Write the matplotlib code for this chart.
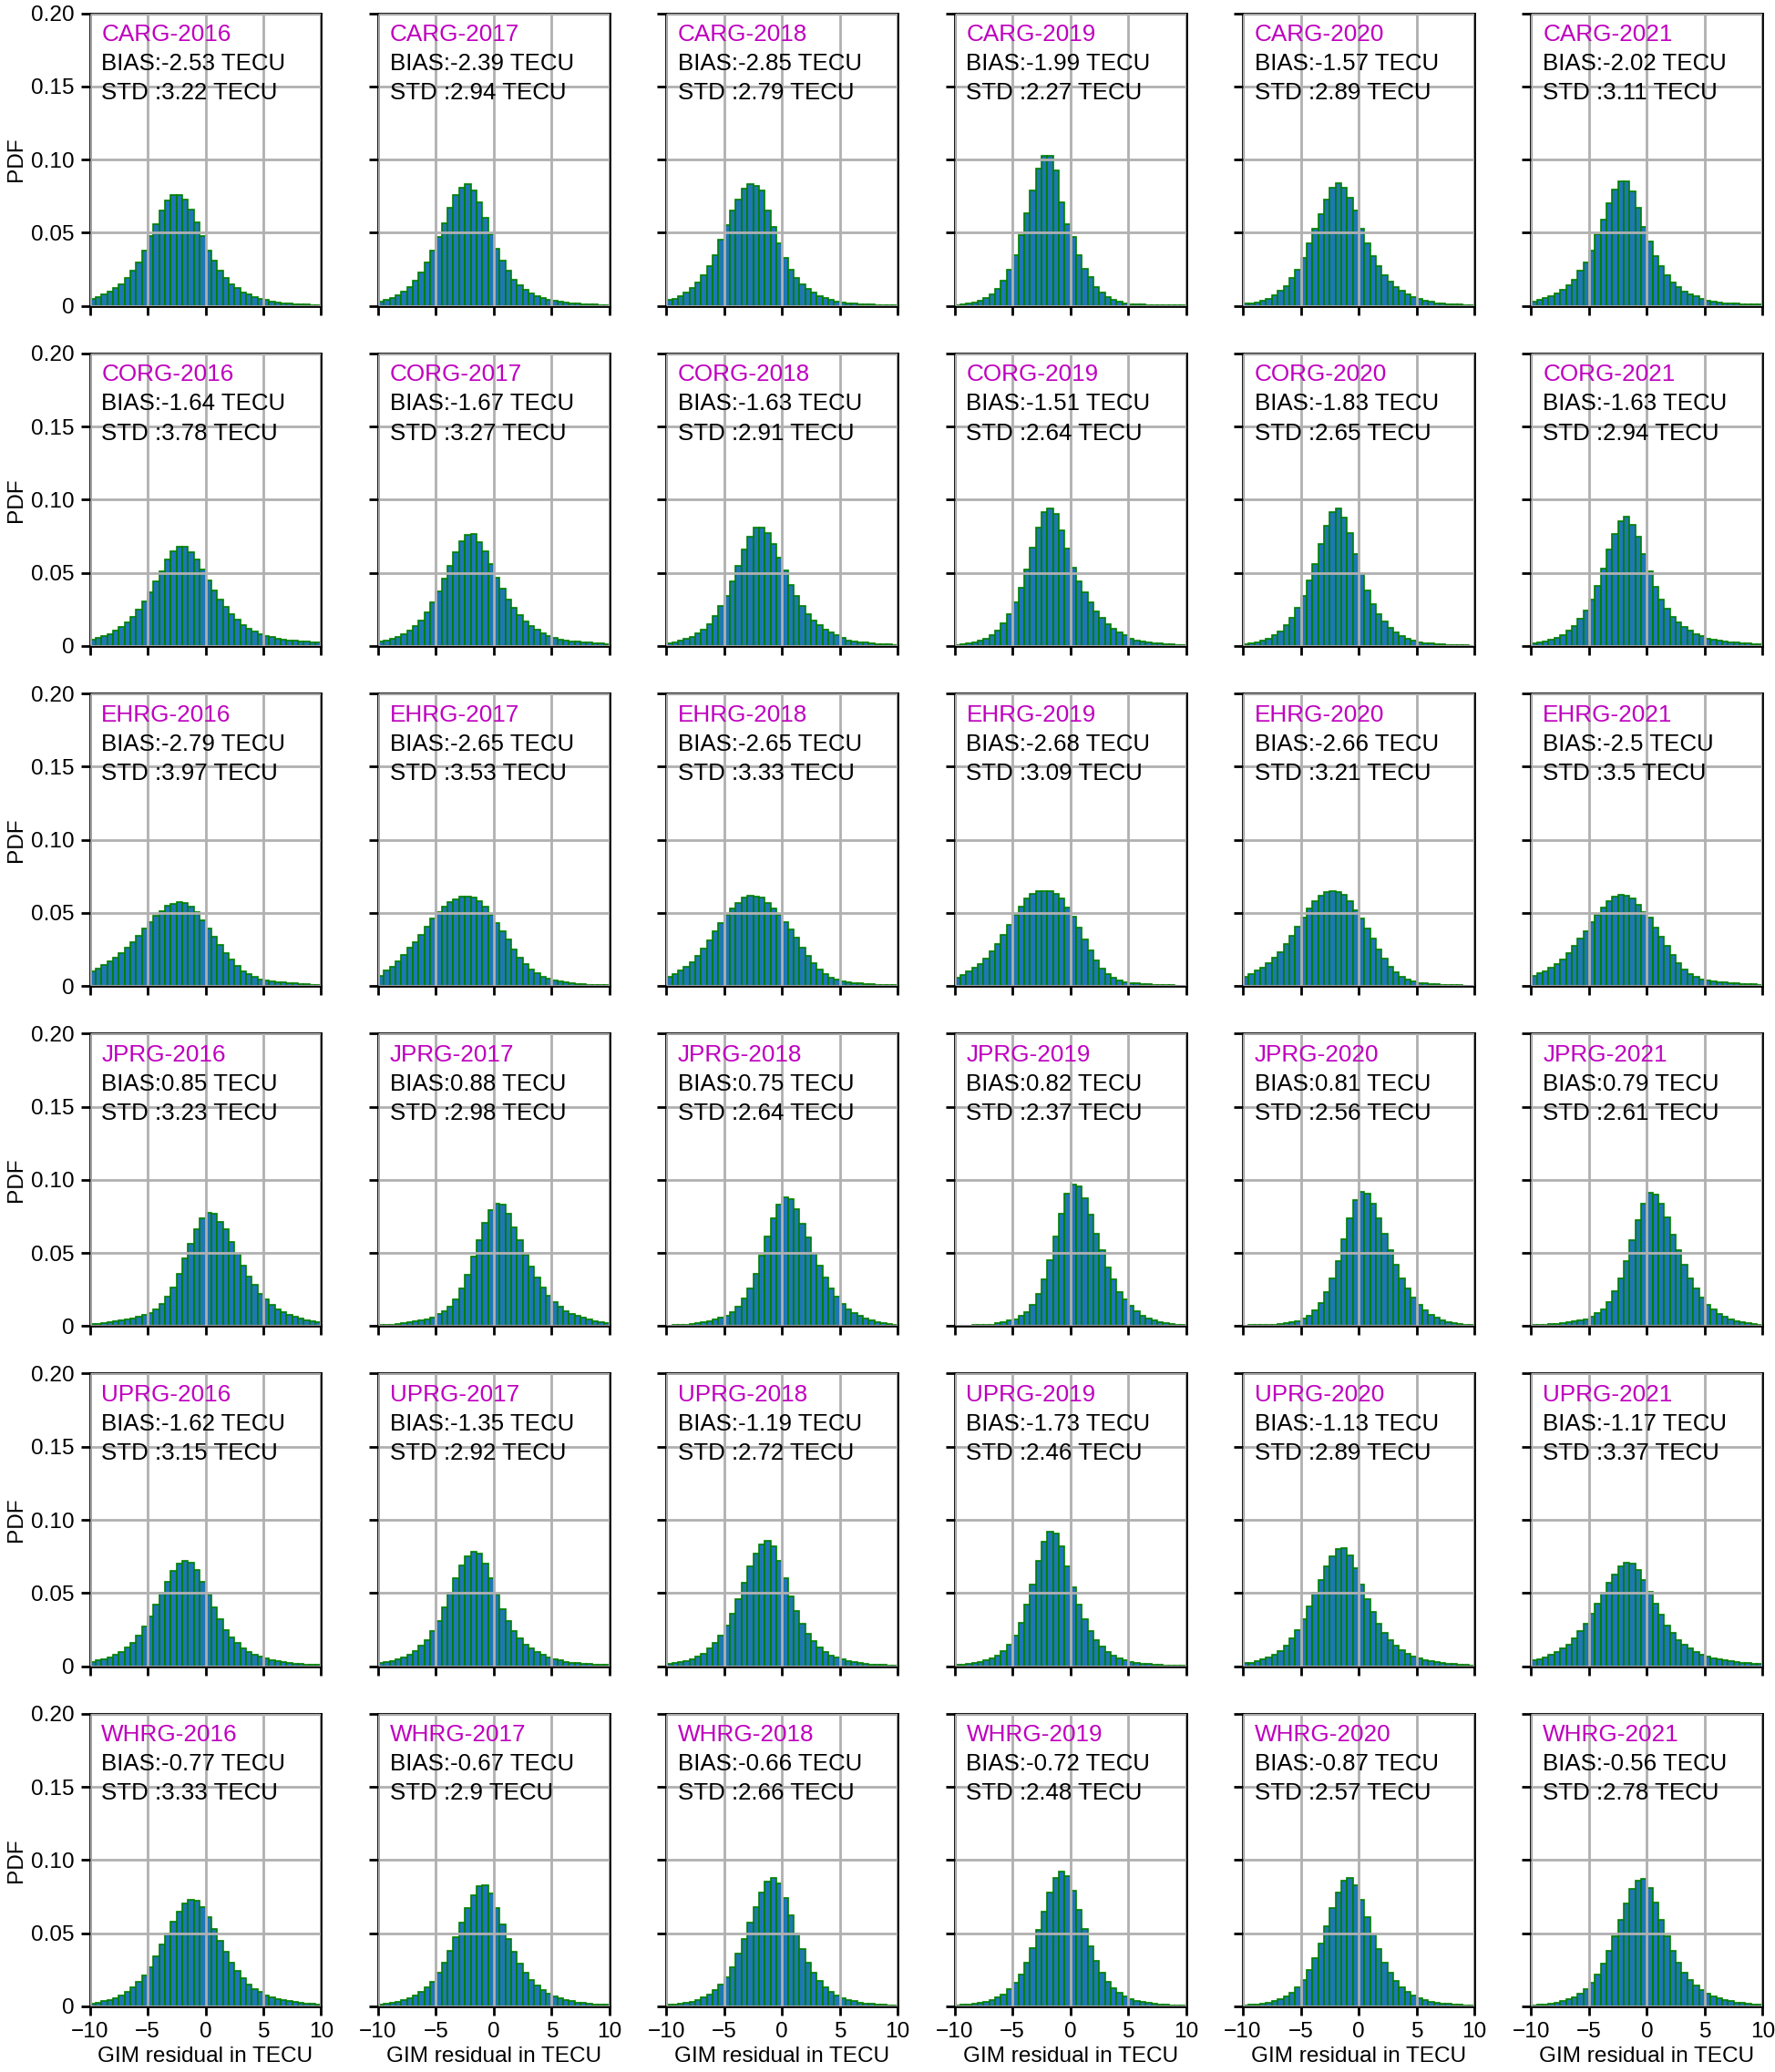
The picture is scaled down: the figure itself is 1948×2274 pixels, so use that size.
#!/usr/bin/env python3
"""6x6 grid of GIM residual histograms (PDF), one row per station, one column per year."""

import matplotlib

matplotlib.use("Agg")
import matplotlib.pyplot as plt  # noqa: E402
import numpy as np  # noqa: E402

plt.rcParams["font.family"] = ["Liberation Sans", "DejaVu Sans"]

STATIONS = ["CARG", "CORG", "EHRG", "JPRG", "UPRG", "WHRG"]
YEARS = [2016, 2017, 2018, 2019, 2020, 2021]

# bias / std per station (rows) and year (columns), TECU
BIAS = [
    [-2.53, -2.39, -2.85, -1.99, -1.57, -2.02],
    [-1.64, -1.67, -1.63, -1.51, -1.83, -1.63],
    [-2.79, -2.65, -2.65, -2.68, -2.66, -2.5],
    [0.85, 0.88, 0.75, 0.82, 0.81, 0.79],
    [-1.62, -1.35, -1.19, -1.73, -1.13, -1.17],
    [-0.77, -0.67, -0.66, -0.72, -0.87, -0.56],
]
STD = [
    [3.22, 2.94, 2.79, 2.27, 2.89, 3.11],
    [3.78, 3.27, 2.91, 2.64, 2.65, 2.94],
    [3.97, 3.53, 3.33, 3.09, 3.21, 3.5],
    [3.23, 2.98, 2.64, 2.37, 2.56, 2.61],
    [3.15, 2.92, 2.72, 2.46, 2.89, 3.37],
    [3.33, 2.9, 2.66, 2.48, 2.57, 2.78],
]

# bin heights, 40 bins of 0.5 TECU from -10 to 10
CARG_PDF = [
    [0.005, 0.006, 0.008, 0.010, 0.012, 0.015, 0.019, 0.024, 0.030, 0.038,
     0.048, 0.056, 0.065, 0.072, 0.076, 0.076, 0.073, 0.066, 0.057, 0.048,
     0.038, 0.031, 0.024, 0.019, 0.015, 0.012, 0.009, 0.008, 0.006, 0.005,
     0.004, 0.003, 0.0025, 0.002, 0.0016, 0.0013, 0.001, 0.0008, 0.0006, 0.0005],
    [0.003, 0.004, 0.0055, 0.0075, 0.010, 0.013, 0.0175, 0.023, 0.030, 0.038,
     0.047, 0.0565, 0.067, 0.076, 0.081, 0.083, 0.079, 0.071, 0.060, 0.049,
     0.039, 0.031, 0.024, 0.018, 0.014, 0.011, 0.0088, 0.0069, 0.0054, 0.0042,
     0.0033, 0.0027, 0.0022, 0.0018, 0.0015, 0.0012, 0.001, 0.0008, 0.0006, 0.0005],
    [0.004, 0.005, 0.007, 0.009, 0.012, 0.016, 0.021, 0.027, 0.035, 0.045,
     0.055, 0.065, 0.073, 0.080, 0.083, 0.082, 0.079, 0.065, 0.054, 0.0425,
     0.033, 0.025, 0.019, 0.015, 0.0117, 0.009, 0.0069, 0.0054, 0.0042, 0.0031,
     0.0025, 0.002, 0.0016, 0.0013, 0.001, 0.0008, 0.0007, 0.0006, 0.0005, 0.0004],
    [0.0006, 0.001, 0.0015, 0.0023, 0.0033, 0.0054, 0.0079, 0.0114, 0.0172, 0.0249,
     0.035, 0.0483, 0.0635, 0.079, 0.094, 0.1023, 0.1025, 0.0925, 0.071, 0.0556,
     0.0473, 0.0346, 0.0255, 0.0197, 0.013, 0.0089, 0.006, 0.0039, 0.0027, 0.0017,
     0.0012, 0.001, 0.0008, 0.0006, 0.0005, 0.0004, 0.0003, 0.0003, 0.0002, 0.0002],
    [0.0015, 0.0017, 0.0025, 0.0035, 0.005, 0.0073, 0.0104, 0.0138, 0.019, 0.025,
     0.033, 0.0425, 0.053, 0.063, 0.073, 0.081, 0.084, 0.081, 0.074, 0.065,
     0.053, 0.043, 0.034, 0.027, 0.021, 0.0165, 0.013, 0.0104, 0.008, 0.0062,
     0.0048, 0.0035, 0.0027, 0.002, 0.0016, 0.0013, 0.001, 0.0008, 0.0006, 0.0005],
    [0.003, 0.0042, 0.0052, 0.0067, 0.0085, 0.011, 0.0144, 0.018, 0.024, 0.030,
     0.038, 0.049, 0.059, 0.070, 0.0795, 0.085, 0.085, 0.078, 0.067, 0.054,
     0.044, 0.034, 0.027, 0.021, 0.016, 0.013, 0.010, 0.008, 0.0065, 0.0046,
     0.0035, 0.003, 0.0025, 0.002, 0.0018, 0.0016, 0.0014, 0.0012, 0.001, 0.0009],
]
CORG_PDF = [
    [0.0042, 0.0056, 0.0069, 0.0083, 0.0104, 0.013, 0.016, 0.020, 0.0248, 0.0306,
     0.037, 0.044, 0.051, 0.059, 0.0646, 0.068, 0.068, 0.064, 0.059, 0.052,
     0.045, 0.038, 0.032, 0.027, 0.022, 0.018, 0.0145, 0.012, 0.0098, 0.0082,
     0.0069, 0.006, 0.0052, 0.0045, 0.004, 0.0035, 0.0031, 0.0028, 0.0025, 0.0022],
    [0.003, 0.0038, 0.0048, 0.0063, 0.008, 0.0106, 0.014, 0.0177, 0.023, 0.0296,
     0.0375, 0.046, 0.055, 0.064, 0.0716, 0.076, 0.0765, 0.071, 0.065, 0.056,
     0.047, 0.039, 0.032, 0.026, 0.021, 0.017, 0.0135, 0.011, 0.0088, 0.0071,
     0.0056, 0.0046, 0.004, 0.0034, 0.003, 0.0026, 0.0022, 0.0019, 0.0016, 0.0014],
    [0.002, 0.0027, 0.0035, 0.0048, 0.0063, 0.0085, 0.011, 0.015, 0.0205, 0.0273,
     0.034, 0.044, 0.055, 0.066, 0.0746, 0.081, 0.081, 0.077, 0.0696, 0.0604,
     0.0515, 0.0417, 0.034, 0.0275, 0.022, 0.0177, 0.0144, 0.0115, 0.0094, 0.0075,
     0.0054, 0.004, 0.0033, 0.0027, 0.0022, 0.0018, 0.0015, 0.0012, 0.001, 0.0008],
    [0.0008, 0.0012, 0.0017, 0.0025, 0.0035, 0.0052, 0.0077, 0.0108, 0.0154, 0.0215,
     0.0296, 0.040, 0.0525, 0.0675, 0.081, 0.0917, 0.094, 0.090, 0.079, 0.0665,
     0.0535, 0.044, 0.037, 0.0296, 0.0237, 0.019, 0.015, 0.0119, 0.0094, 0.0075,
     0.005, 0.004, 0.0032, 0.0026, 0.0021, 0.0017, 0.0014, 0.0011, 0.0009, 0.0007],
    [0.0013, 0.0017, 0.0025, 0.0035, 0.005, 0.0073, 0.0102, 0.0142, 0.0196, 0.026,
     0.034, 0.0446, 0.056, 0.070, 0.082, 0.0917, 0.094, 0.088, 0.0775, 0.063,
     0.049, 0.038, 0.0285, 0.022, 0.0167, 0.0125, 0.0094, 0.0071, 0.0052, 0.0038,
     0.0027, 0.002, 0.0016, 0.0013, 0.001, 0.0008, 0.0006, 0.0005, 0.0004, 0.0003],
    [0.0017, 0.0023, 0.0031, 0.0042, 0.0056, 0.0077, 0.0104, 0.0138, 0.0185, 0.0244,
     0.0317, 0.041, 0.053, 0.066, 0.0765, 0.085, 0.0885, 0.083, 0.075, 0.063,
     0.051, 0.0406, 0.032, 0.0254, 0.020, 0.016, 0.0131, 0.0104, 0.0083, 0.0067,
     0.0052, 0.0042, 0.0035, 0.003, 0.0026, 0.0022, 0.0019, 0.0016, 0.0014, 0.0012],
]
EHRG_PDF = [
    [0.0103, 0.0122, 0.0145, 0.017, 0.0196, 0.0227, 0.0262, 0.030, 0.0345, 0.0393,
     0.0436, 0.048, 0.0514, 0.0547, 0.0564, 0.0576, 0.0568, 0.054, 0.0506, 0.0448,
     0.0393, 0.0337, 0.028, 0.0227, 0.0182, 0.0138, 0.0103, 0.008, 0.0062, 0.0048,
     0.004, 0.0033, 0.0029, 0.0025, 0.0021, 0.0019, 0.0015, 0.0012, 0.001, 0.0008],
    [0.0072, 0.0107, 0.0134, 0.017, 0.0213, 0.026, 0.030, 0.0351, 0.0407, 0.0465,
     0.0506, 0.054, 0.0572, 0.0593, 0.061, 0.0614, 0.0603, 0.0579, 0.0543, 0.049,
     0.0434, 0.0372, 0.0316, 0.0248, 0.0192, 0.0151, 0.0114, 0.0089, 0.0066, 0.0052,
     0.0037, 0.003, 0.0025, 0.002, 0.0016, 0.0013, 0.001, 0.0008, 0.0006, 0.0005],
    [0.0066, 0.0083, 0.0107, 0.0134, 0.0165, 0.0207, 0.0258, 0.031, 0.0372, 0.0428,
     0.0485, 0.053, 0.0568, 0.0603, 0.0616, 0.0612, 0.0605, 0.0568, 0.053, 0.049,
     0.0438, 0.0388, 0.033, 0.0264, 0.0207, 0.0155, 0.0114, 0.0083, 0.0058, 0.0043,
     0.0033, 0.0026, 0.0021, 0.0017, 0.0014, 0.0011, 0.0009, 0.0007, 0.0006, 0.0005],
    [0.0058, 0.0079, 0.010, 0.0127, 0.0152, 0.019, 0.0235, 0.0288, 0.035, 0.0419,
     0.0485, 0.0544, 0.0596, 0.063, 0.0648, 0.0652, 0.0646, 0.063, 0.0596, 0.0538,
     0.0475, 0.0398, 0.0319, 0.0246, 0.0173, 0.0121, 0.0085, 0.0056, 0.004, 0.0027,
     0.0021, 0.0017, 0.0014, 0.0011, 0.0009, 0.0007, 0.0006, 0.0005, 0.0004, 0.0003],
    [0.0063, 0.0083, 0.0106, 0.0127, 0.0156, 0.0194, 0.023, 0.0288, 0.0344, 0.0406,
     0.047, 0.0531, 0.058, 0.0619, 0.0642, 0.0648, 0.0644, 0.0621, 0.058, 0.0517,
     0.0465, 0.0396, 0.0323, 0.0252, 0.0188, 0.0135, 0.0094, 0.0063, 0.0046, 0.0033,
     0.0023, 0.0018, 0.0015, 0.0012, 0.001, 0.0008, 0.0006, 0.0005, 0.0004, 0.0003],
    [0.0069, 0.0088, 0.0104, 0.0127, 0.0152, 0.0183, 0.0225, 0.0273, 0.0323, 0.0377,
     0.0438, 0.049, 0.0538, 0.058, 0.0612, 0.0623, 0.062, 0.0596, 0.0558, 0.0506,
     0.047, 0.0398, 0.0335, 0.0273, 0.021, 0.0156, 0.0115, 0.0083, 0.0063, 0.0048,
     0.0038, 0.0033, 0.0029, 0.0025, 0.0021, 0.0018, 0.0015, 0.0013, 0.0011, 0.0009],
]
JPRG_PDF = [
    [0.0013, 0.0017, 0.0021, 0.0025, 0.0031, 0.0038, 0.0046, 0.0054, 0.0065, 0.0075,
     0.009, 0.0117, 0.015, 0.0202, 0.0267, 0.0356, 0.0465, 0.0565, 0.0665, 0.0735,
     0.0773, 0.0767, 0.0715, 0.066, 0.0575, 0.0496, 0.0413, 0.034, 0.0281, 0.0223,
     0.0183, 0.0146, 0.0117, 0.0094, 0.0077, 0.0065, 0.0052, 0.0042, 0.0033, 0.0027],
    [0.0006, 0.0008, 0.001, 0.0015, 0.0019, 0.0025, 0.0031, 0.004, 0.0048, 0.006,
     0.0081, 0.010, 0.0131, 0.0183, 0.0256, 0.0354, 0.0475, 0.0585, 0.0704, 0.0794,
     0.084, 0.083, 0.0767, 0.0677, 0.059, 0.049, 0.0406, 0.0333, 0.0267, 0.021,
     0.0167, 0.0131, 0.0104, 0.0083, 0.0069, 0.0056, 0.0046, 0.0035, 0.0027, 0.0021],
    [0.0004, 0.0006, 0.0008, 0.0012, 0.0017, 0.0021, 0.0027, 0.0033, 0.0044, 0.0058,
     0.0069, 0.0094, 0.0131, 0.019, 0.026, 0.036, 0.048, 0.061, 0.0735, 0.083,
     0.088, 0.0867, 0.080, 0.0698, 0.0606, 0.0496, 0.0413, 0.0333, 0.026, 0.020,
     0.0152, 0.0117, 0.009, 0.0069, 0.0052, 0.0038, 0.0027, 0.0021, 0.0015, 0.001],
    [0.0002, 0.0004, 0.0004, 0.0006, 0.0008, 0.001, 0.0012, 0.0019, 0.0027, 0.004,
     0.0048, 0.0069, 0.0096, 0.0146, 0.0219, 0.0323, 0.0454, 0.0615, 0.0771, 0.0906,
     0.0969, 0.0956, 0.0875, 0.0765, 0.0631, 0.0517, 0.0402, 0.0319, 0.0235, 0.0183,
     0.0138, 0.010, 0.0073, 0.0054, 0.0038, 0.0027, 0.0021, 0.0015, 0.001, 0.0006],
    [0.0004, 0.0006, 0.0006, 0.0008, 0.001, 0.0012, 0.0017, 0.0021, 0.0027, 0.0033,
     0.0054, 0.0073, 0.0106, 0.016, 0.0235, 0.0329, 0.0448, 0.0594, 0.0735, 0.086,
     0.0919, 0.0906, 0.084, 0.074, 0.0631, 0.0517, 0.0419, 0.0329, 0.0256, 0.0194,
     0.0144, 0.0106, 0.0079, 0.0058, 0.0042, 0.0029, 0.0021, 0.0015, 0.001, 0.0008],
    [0.0006, 0.0008, 0.001, 0.0015, 0.0017, 0.0021, 0.0025, 0.0031, 0.004, 0.0048,
     0.0065, 0.009, 0.0117, 0.0163, 0.024, 0.0329, 0.0448, 0.0585, 0.0725, 0.084,
     0.0913, 0.0902, 0.084, 0.0742, 0.0627, 0.0517, 0.0419, 0.0329, 0.0256, 0.0198,
     0.0148, 0.0115, 0.0085, 0.0065, 0.0048, 0.0035, 0.0027, 0.0019, 0.0015, 0.001],
]
UPRG_PDF = [
    [0.003, 0.004, 0.005, 0.006, 0.008, 0.010, 0.013, 0.016, 0.021, 0.027,
     0.034, 0.042, 0.050, 0.058, 0.065, 0.070, 0.072, 0.071, 0.066, 0.058,
     0.049, 0.040, 0.032, 0.025, 0.020, 0.016, 0.0125, 0.010, 0.008, 0.0065,
     0.0052, 0.0042, 0.0034, 0.0028, 0.0023, 0.0019, 0.0016, 0.0013, 0.0011, 0.0009],
    [0.002, 0.0028, 0.0036, 0.0047, 0.006, 0.008, 0.0105, 0.014, 0.018, 0.024,
     0.031, 0.040, 0.050, 0.060, 0.069, 0.075, 0.078, 0.077, 0.070, 0.060,
     0.049, 0.039, 0.031, 0.024, 0.019, 0.015, 0.012, 0.0095, 0.0076, 0.006,
     0.0048, 0.0039, 0.0032, 0.0026, 0.0021, 0.0017, 0.0014, 0.0012, 0.001, 0.0008],
    [0.0015, 0.002, 0.0027, 0.0036, 0.0048, 0.0065, 0.0088, 0.012, 0.016, 0.021,
     0.028, 0.036, 0.046, 0.057, 0.068, 0.077, 0.083, 0.086, 0.082, 0.072,
     0.060, 0.048, 0.038, 0.029, 0.022, 0.017, 0.013, 0.0098, 0.0075, 0.0058,
     0.0045, 0.0035, 0.0027, 0.0021, 0.0017, 0.0013, 0.001, 0.0008, 0.0006, 0.0005],
    [0.001, 0.0013, 0.0017, 0.0023, 0.003, 0.004, 0.0055, 0.0075, 0.0105, 0.015,
     0.021, 0.030, 0.042, 0.056, 0.072, 0.085, 0.092, 0.091, 0.082, 0.068,
     0.054, 0.042, 0.032, 0.024, 0.018, 0.0135, 0.010, 0.0075, 0.0056, 0.0042,
     0.0032, 0.0025, 0.0019, 0.0015, 0.0012, 0.0009, 0.0007, 0.0006, 0.0005, 0.0004],
    [0.002, 0.0026, 0.0034, 0.0045, 0.006, 0.008, 0.0105, 0.014, 0.019, 0.025,
     0.032, 0.041, 0.050, 0.059, 0.068, 0.075, 0.080, 0.081, 0.076, 0.067,
     0.056, 0.046, 0.037, 0.029, 0.023, 0.018, 0.014, 0.011, 0.0087, 0.0068,
     0.0054, 0.0043, 0.0034, 0.0027, 0.0022, 0.0018, 0.0014, 0.0011, 0.0009, 0.0007],
    [0.004, 0.005, 0.0062, 0.0077, 0.0095, 0.012, 0.015, 0.019, 0.024, 0.029,
     0.036, 0.043, 0.050, 0.057, 0.063, 0.068, 0.071, 0.070, 0.066, 0.059,
     0.051, 0.043, 0.035, 0.028, 0.023, 0.018, 0.0145, 0.012, 0.0098, 0.0082,
     0.0068, 0.0057, 0.0048, 0.0041, 0.0035, 0.003, 0.0026, 0.0022, 0.0019, 0.0017],
]
WHRG_PDF = [
    [0.002, 0.0027, 0.0035, 0.0045, 0.0058, 0.0075, 0.0098, 0.0128, 0.0165, 0.021,
     0.027, 0.034, 0.042, 0.050, 0.058, 0.065, 0.070, 0.073, 0.072, 0.068,
     0.061, 0.053, 0.045, 0.037, 0.030, 0.024, 0.019, 0.015, 0.012, 0.0096,
     0.0077, 0.0062, 0.005, 0.0041, 0.0034, 0.0028, 0.0023, 0.0019, 0.0016, 0.0013],
    [0.0013, 0.0018, 0.0024, 0.0031, 0.0041, 0.0054, 0.0072, 0.0096, 0.013, 0.017,
     0.023, 0.030, 0.038, 0.047, 0.057, 0.067, 0.076, 0.082, 0.083, 0.077,
     0.067, 0.056, 0.046, 0.037, 0.029, 0.023, 0.018, 0.014, 0.011, 0.0085,
     0.0067, 0.0053, 0.0042, 0.0034, 0.0027, 0.0022, 0.0018, 0.0014, 0.0011, 0.0009],
    [0.001, 0.0014, 0.0019, 0.0025, 0.0033, 0.0044, 0.006, 0.008, 0.011, 0.015,
     0.020, 0.027, 0.036, 0.046, 0.057, 0.068, 0.078, 0.085, 0.088, 0.084,
     0.074, 0.062, 0.050, 0.039, 0.030, 0.023, 0.0175, 0.013, 0.010, 0.0075,
     0.0058, 0.0045, 0.0035, 0.0027, 0.0021, 0.0017, 0.0013, 0.001, 0.0008, 0.0006],
    [0.0007, 0.001, 0.0013, 0.0018, 0.0024, 0.0032, 0.0044, 0.006, 0.0083, 0.0115,
     0.016, 0.022, 0.030, 0.040, 0.052, 0.065, 0.078, 0.088, 0.092, 0.089,
     0.079, 0.066, 0.053, 0.041, 0.031, 0.023, 0.017, 0.0125, 0.0093, 0.0069,
     0.0051, 0.0038, 0.0029, 0.0022, 0.0017, 0.0013, 0.001, 0.0008, 0.0006, 0.0005],
    [0.0008, 0.0011, 0.0015, 0.002, 0.0027, 0.0036, 0.005, 0.0068, 0.0093, 0.013,
     0.018, 0.025, 0.033, 0.043, 0.055, 0.067, 0.078, 0.086, 0.088, 0.083,
     0.073, 0.061, 0.049, 0.039, 0.030, 0.023, 0.0175, 0.013, 0.0098, 0.0074,
     0.0056, 0.0043, 0.0033, 0.0026, 0.002, 0.0016, 0.0012, 0.001, 0.0008, 0.0006],
    [0.0008, 0.0011, 0.0015, 0.002, 0.0026, 0.0035, 0.0047, 0.0063, 0.0085, 0.0115,
     0.016, 0.022, 0.029, 0.038, 0.048, 0.059, 0.070, 0.080, 0.086, 0.087,
     0.081, 0.071, 0.059, 0.048, 0.038, 0.030, 0.023, 0.018, 0.014, 0.011,
     0.0085, 0.0067, 0.0053, 0.0042, 0.0034, 0.0027, 0.0022, 0.0018, 0.0015, 0.0012],
]

PDF_BY_STATION = [CARG_PDF, CORG_PDF, EHRG_PDF, JPRG_PDF, UPRG_PDF, WHRG_PDF]


def main() -> None:
    edges = np.linspace(-10, 10, 41)
    fig, axes = plt.subplots(6, 6, figsize=(9.74, 11.37), dpi=200)
    fig.subplots_adjust(left=0.0506, right=0.993, bottom=0.0317, top=0.9936,
                        wspace=0.246, hspace=0.162)

    for i, station in enumerate(STATIONS):
        for j, year in enumerate(YEARS):
            ax = axes[i, j]
            heights = PDF_BY_STATION[i][j]
            ax.bar(edges[:-1], heights, width=0.5, align="edge",
                   color="#1f77b4", edgecolor="g", linewidth=0.6)
            ax.set_xlim(-10, 10)
            ax.set_ylim(0, 0.2)
            ax.set_xticks([-10, -5, 0, 5, 10])
            ax.set_yticks([0, 0.05, 0.10, 0.15, 0.20])
            ax.grid(True, color="#b0b0b0", linewidth=1.0)
            ax.set_axisbelow(False)
            ax.tick_params(labelsize=8.8, width=1.0, pad=2.5)
            for sp in ax.spines.values():
                sp.set_linewidth(1.0)

            ax.text(-9, 0.181, f"{station}-{year}", color="m", fontsize=9.4)
            ax.text(-9, 0.161, f"BIAS:{BIAS[i][j]} TECU", color="k", fontsize=9.3)
            ax.text(-9, 0.141, f"STD :{STD[i][j]} TECU", color="k", fontsize=9.3)

            if j == 0:
                ax.set_yticklabels(["0", "0.05", "0.10", "0.15", "0.20"])
                ax.set_ylabel("PDF", fontsize=8.8, labelpad=2)
            else:
                ax.set_yticklabels([])
            if i == len(STATIONS) - 1:
                ax.set_xlabel("GIM residual in TECU", fontsize=8.8, labelpad=2)
            else:
                ax.set_xticklabels([])

    fig.savefig("out.png", dpi=200)
    plt.close(fig)


if __name__ == "__main__":
    main()
